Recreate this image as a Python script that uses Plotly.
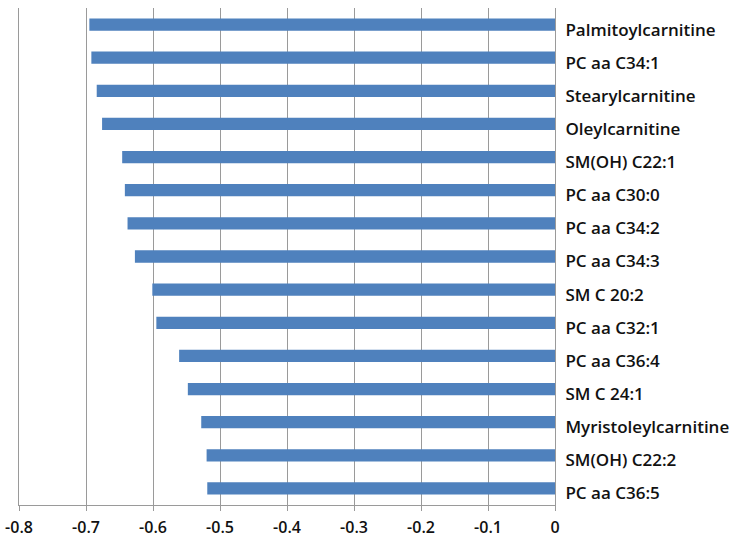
import plotly.graph_objects as go

# metabolites, top to bottom as shown
metabolites = [
    "Palmitoylcarnitine", "PC aa C34:1", "Stearylcarnitine", "Oleylcarnitine",
    "SM(OH) C22:1", "PC aa C30:0", "PC aa C34:2", "PC aa C34:3",
    "SM C 20:2", "PC aa C32:1", "PC aa C36:4", "SM C 24:1",
    "Myristoleylcarnitine", "SM(OH) C22:2", "PC aa C36:5",
]
correlation = [
    -0.695, -0.692, -0.684, -0.676, -0.646, -0.642, -0.638, -0.627,
    -0.601, -0.595, -0.561, -0.548, -0.528, -0.520, -0.519,
]
x_ticks = [-0.8, -0.7, -0.6, -0.5, -0.4, -0.3, -0.2, -0.1, 0]
x_tick_text = ["-0.8", "-0.7", "-0.6", "-0.5", "-0.4", "-0.3", "-0.2", "-0.1", "0"]

fig = go.Figure(go.Bar(
    x=correlation,
    y=metabolites,
    orientation='h',
    marker=dict(color='#4F81BD', line=dict(width=0)),
    width=0.37,
))

fig.update_layout(
    width=737, height=545,
    margin=dict(l=19, r=182, t=8, b=40),
    paper_bgcolor='white', plot_bgcolor='white',
    showlegend=False,
    font=dict(family="Open Sans", color='#111111'),
)
fig.update_xaxes(
    range=[-0.8, 0],
    automargin=False,
    tickvals=x_ticks, ticktext=x_tick_text,
    showgrid=True, gridcolor='#9a9a9a', gridwidth=1,
    showline=True, linecolor='#9a9a9a', linewidth=1,
    ticks='outside', ticklen=5, tickcolor='#9a9a9a',
    ticklabelstandoff=3,
    ticklabeloverflow='allow',
    tickfont=dict(size=16, family="Open Sans", weight=600),
    zeroline=False,
)
# mirror=True also draws the line at -0.8 (edge gridline gets dropped otherwise)
fig.update_yaxes(
    autorange='reversed',
    automargin=False,
    side='right',
    showline=True, mirror=True, linecolor='#9a9a9a', linewidth=1,
    showgrid=False, ticks='',
    ticklabelstandoff=6,
    ticklabelshift=-5,
    tickfont=dict(size=17, family="Open Sans", weight=600),
)

# drop the default 8px body margin so the chart fills the window
fig.write_html("out.html", config={'displayModeBar': False},
               post_script="document.body.style.margin='0';")
